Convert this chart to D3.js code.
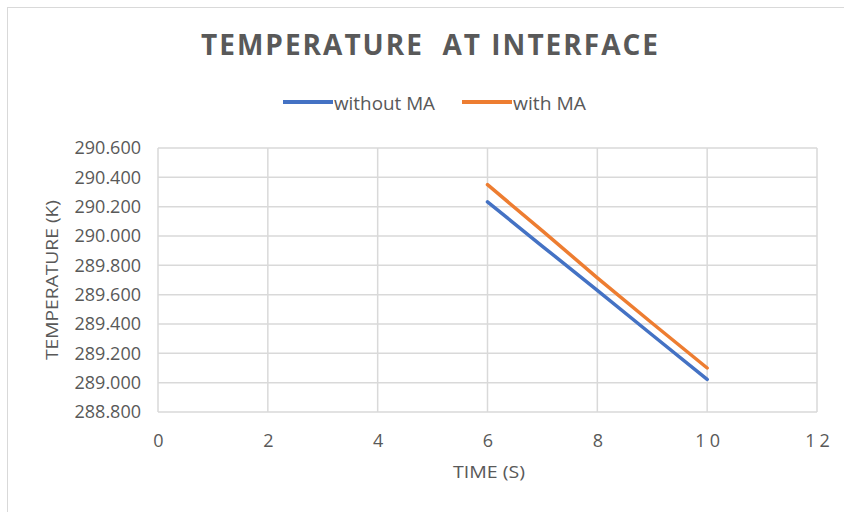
<!DOCTYPE html>
<html>
<head>
<meta charset="utf-8">
<script src="https://cdn.jsdelivr.net/npm/d3@7"></script>
<style>
  html, body { margin: 0; padding: 0; background: #fff; }
  svg { display: block; }
</style>
</head>
<body>
<svg id="chart" width="844" height="512"></svg>
<script>
// Interface temperature over time, with and without MA
const timeS = [6, 7, 8, 9, 10];
const tempWithoutMA = [290.233, 289.930, 289.630, 289.325, 289.022];
const tempWithMA = [290.350, 290.035, 289.715, 289.405, 289.100];
const seriesNames = ["without MA", "with MA"];
const seriesColors = ["#4472C4", "#ED7D31"];
const xTicks = [0, 2, 4, 6, 8, 10, 12];
const yTicks = [288.8, 289.0, 289.2, 289.4, 289.6, 289.8, 290.0, 290.2, 290.4, 290.6];

const svg = d3.select("#chart");
const W = 844, H = 512;
const plot = { left: 158, right: 817, top: 148, bottom: 412 };
const textColor = "#595959";
const font = "'Open Sans', 'Liberation Sans', sans-serif";

// chart frame
svg.append("rect")
  .attr("x", 7.5).attr("y", 7.5)
  .attr("width", W + 10).attr("height", H + 10)
  .attr("fill", "#fff").attr("stroke", "#d9d9d9").attr("stroke-width", 1);

const x = d3.scaleLinear().domain([0, 12]).range([plot.left, plot.right]);
const y = d3.scaleLinear().domain([288.8, 290.6]).range([plot.bottom, plot.top]);

// gridlines
const grid = svg.append("g");
grid.selectAll("line.h").data(yTicks).join("line")
  .attr("x1", plot.left).attr("x2", plot.right)
  .attr("y1", d => y(d)).attr("y2", d => y(d))
  .attr("stroke", "#d9d9d9").attr("stroke-width", 1.5);
grid.selectAll("line.v").data(xTicks).join("line")
  .attr("y1", plot.top).attr("y2", plot.bottom)
  .attr("x1", d => x(d)).attr("x2", d => x(d))
  .attr("stroke", "#d9d9d9").attr("stroke-width", 1.5);

// axes (labels only; gridlines carry the lines)
const yAxis = svg.append("g")
  .attr("transform", `translate(${plot.left},0)`)
  .call(d3.axisLeft(y).tickValues(yTicks).tickFormat(d3.format(".3f")).tickSize(0).tickPadding(17));
yAxis.select(".domain").remove();
yAxis.selectAll("text")
  .attr("fill", textColor).style("font-family", font).style("font-size", "18px");

const xAxis = svg.append("g")
  .attr("transform", `translate(0,${plot.bottom})`)
  .call(d3.axisBottom(x).tickValues(xTicks).tickFormat(d3.format("d")).tickSize(0).tickPadding(0));
xAxis.select(".domain").remove();
xAxis.selectAll("text")
  .attr("dy", null).attr("y", 35).attr("dx", "2px")
  .attr("fill", textColor).style("font-family", font).style("font-size", "18px")
  .style("letter-spacing", "4px");

// series lines
const line = d3.line().x((d, i) => x(timeS[i])).y(d => y(d));
[tempWithoutMA, tempWithMA].forEach((vals, k) => {
  svg.append("path")
    .datum(vals)
    .attr("d", line)
    .attr("fill", "none")
    .attr("stroke", seriesColors[k])
    .attr("stroke-width", 3.5)
    .attr("stroke-linecap", "round");
});

// title (double space kept between the two words)
svg.append("text")
  .attr("x", 201).attr("y", 55)
  .attr("fill", textColor)
  .attr("textLength", 457).attr("lengthAdjust", "spacing")
  .style("white-space", "pre")
  .style("font-family", font).style("font-size", "28px").style("font-weight", "bold")
  .text("TEMPERATURE  AT INTERFACE");

// legend
const legendItems = [
  { name: seriesNames[0], color: seriesColors[0], x0: 283, w: 101 },
  { name: seriesNames[1], color: seriesColors[1], x0: 462, w: 73 }
];
const lg = svg.append("g");
legendItems.forEach(it => {
  lg.append("line")
    .attr("x1", it.x0).attr("x2", it.x0 + 50)
    .attr("y1", 102).attr("y2", 102)
    .attr("stroke", it.color).attr("stroke-width", 4);
  lg.append("text")
    .attr("x", it.x0 + 51).attr("y", 110)
    .attr("fill", textColor)
    .attr("textLength", it.w).attr("lengthAdjust", "spacingAndGlyphs")
    .style("font-family", font).style("font-size", "18px")
    .text(it.name);
});

// axis titles
svg.append("text")
  .attr("x", 453).attr("y", 478)
  .attr("fill", textColor)
  .attr("textLength", 72).attr("lengthAdjust", "spacingAndGlyphs")
  .style("font-family", font).style("font-size", "17px")
  .text("TIME (S)");

svg.append("text")
  .attr("transform", `translate(58,${(plot.top + plot.bottom) / 2 + 80}) rotate(-90)`)
  .attr("fill", textColor)
  .attr("textLength", 160).attr("lengthAdjust", "spacingAndGlyphs")
  .style("font-family", font).style("font-size", "17px")
  .text("TEMPERATURE (K)");
</script>
</body>
</html>
